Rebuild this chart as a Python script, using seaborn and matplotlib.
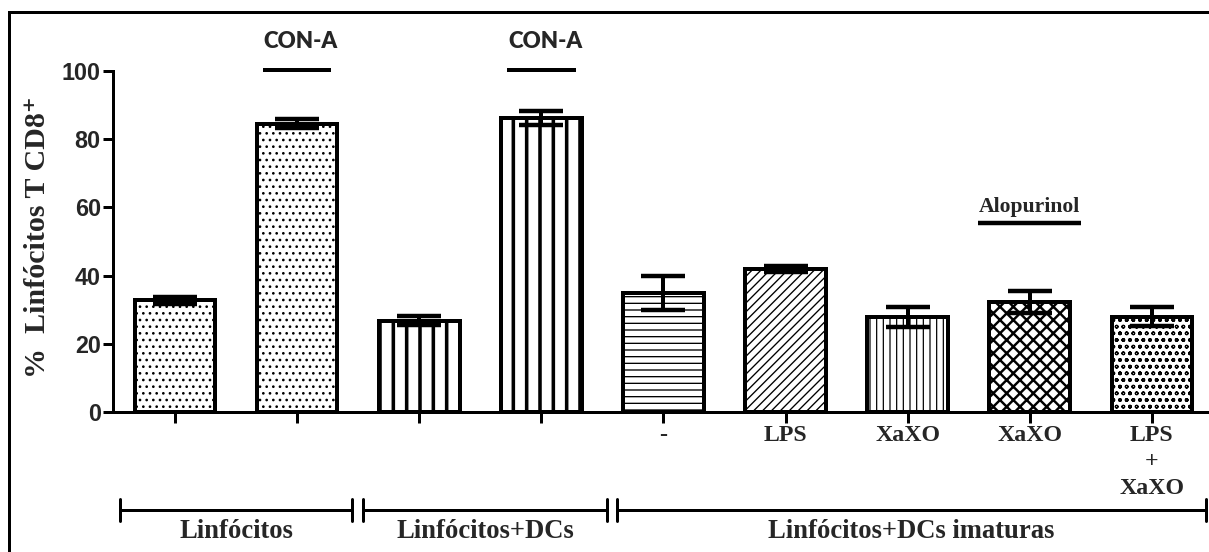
import numpy as np
import matplotlib
matplotlib.use("Agg")
import matplotlib.pyplot as plt
import matplotlib.transforms as mtransforms
from matplotlib.lines import Line2D
from matplotlib.patches import Rectangle
import seaborn as sns

# ---- dados ----
condicoes = ["Linf", "Linf CON-A", "Linf+DC", "Linf+DC CON-A", "DCi",
             "DCi LPS", "DCi XaXO", "DCi XaXO Alop", "DCi LPS+XaXO"]
rotulos_x = ["", "", "", "", "-", "LPS", "XaXO", "XaXO", "LPS\n+\nXaXO"]
medias = [32.7, 84.5, 26.8, 86.2, 34.9, 42.0, 27.8, 32.3, 28.0]
erros = [1.0, 1.3, 1.3, 2.0, 5.0, 0.8, 2.9, 3.3, 2.9]
grupos = ["Linfócitos", "Linfócitos+DCs", "Linfócitos+DCs imaturas"]
estimulo = "CON-A"
barras_estimulo = [1, 3]
inibidor = "Alopurinol"
barra_inibidor = 7
yticks = [0, 20, 40, 60, 80, 100]

# ---- estilo ----
texturas = ["..", "..", "|", "|", "--", "///", "||", "xx", "oo"]
larg_textura = [1.2, 1.2, 3.2, 3.2, 1.2, 1.2, 1.1, 2.2, 1.1]
limites_grupos = [(-0.45, 1.45), (1.54, 3.54), (3.62, 8.44)]

W, H, DPI = 1209, 552, 80
sns.set_style("ticks")
serif = ["Liberation Serif", "DejaVu Serif"]

fig = plt.figure(figsize=(W / DPI, H / DPI), dpi=DPI)
ax = fig.add_axes([113 / W, 1 - 412 / H, 1096 / W, 341 / H])

sns.barplot(x=condicoes, y=medias, order=condicoes, color="white",
            edgecolor="black", linewidth=3.6, width=0.66, errorbar=None,
            ax=ax, zorder=2)
for patch, tex, lw in zip(ax.patches, texturas, larg_textura):
    patch.set_hatch(tex)
    if hasattr(patch, "set_hatch_linewidth"):
        patch.set_hatch_linewidth(lw)

ax.errorbar(np.arange(len(medias)), medias, yerr=erros, fmt="none",
            ecolor="black", elinewidth=3.6, capsize=19.5, capthick=4.0,
            zorder=5)

ax.set_xlim(-0.508, 8.468)
ax.set_ylim(0, 100)
for s in ("top", "right"):
    ax.spines[s].set_visible(False)
for s in ("left", "bottom"):
    ax.spines[s].set_linewidth(2.7)
    ax.spines[s].set_color("black")

ax.set_yticks(yticks, labels=[str(v) for v in yticks],
              fontfamily="Liberation Sans", fontweight="bold", fontsize=21)
ax.set_xticks(np.arange(len(condicoes)), labels=rotulos_x,
              fontfamily="Liberation Serif", fontweight="bold", fontsize=21.5,
              linespacing=1.32)
ax.tick_params(axis="y", length=9, width=2.7, pad=2, color="black")
ax.tick_params(axis="x", length=10, width=2.7, pad=2, color="black")
ax.set_xlabel("")
ax.set_ylabel("%  Linfócitos T CD8⁺", family=serif, fontweight="bold",
              fontsize=27, va="center")
ax.yaxis.set_label_coords(-0.0689, 0.513)

trans = mtransforms.blended_transform_factory(ax.transData, fig.transFigure)


def fy(px):
    return 1 - px / H


# chaves dos grupos
y_ch = fy(510)
dh = 11 / H
for nome, (a, b) in zip(grupos, limites_grupos):
    fig.add_artist(Line2D([a, b], [y_ch, y_ch], transform=trans,
                          color="black", lw=2.7))
    for xx in (a, b):
        fig.add_artist(Line2D([xx, xx], [y_ch - dh, y_ch + dh],
                              transform=trans, color="black", lw=2.7))
    fig.text((a + b) / 2, fy(538.5), nome, transform=trans, ha="center",
             va="baseline", family=serif, fontweight="bold", fontsize=24)

# estimulo CON-A
for i in barras_estimulo:
    fig.text(i + 0.03, fy(48), estimulo, transform=trans, ha="center",
             va="baseline", family="Lato", fontweight="heavy", fontsize=20)
    fig.add_artist(Line2D([i - 0.28, i + 0.28], [fy(69.7), fy(69.7)],
                          transform=trans, color="black", lw=3.6,
                          solid_capstyle="butt"))

# inibidor
fig.text(barra_inibidor, fy(212), inibidor, transform=trans, ha="center",
         va="baseline", family=serif, fontweight="bold", fontsize=19.5)
fig.add_artist(Line2D([barra_inibidor - 0.42, barra_inibidor + 0.42],
                      [fy(223.3), fy(223.3)], transform=trans, color="black",
                      lw=4, solid_capstyle="butt"))

# moldura
fig.add_artist(Rectangle((8.5 / W, -0.1), 1.2, fy(11.5) + 0.1, fill=False,
                         lw=2.7, edgecolor="black",
                         transform=fig.transFigure))

fig.savefig("out.png", dpi=DPI, facecolor="white")
